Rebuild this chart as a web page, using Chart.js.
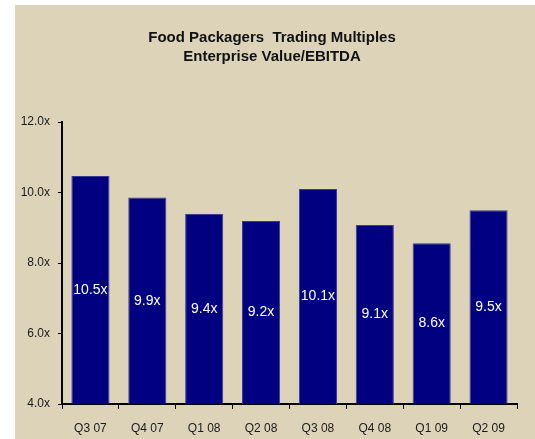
<!DOCTYPE html>
<html>
<head>
<meta charset="utf-8">
<script src="https://cdn.jsdelivr.net/npm/chart.js@4/dist/chart.umd.min.js"></script>
<style>
html,body{margin:0;padding:0;background:#ffffff;}
#wrap{position:relative;width:535px;height:439px;}
</style>
</head>
<body>
<div id="wrap"><canvas id="c" width="535" height="439"></canvas></div>
<script>
const titleLines = ["Food Packagers  Trading Multiples", "Enterprise Value/EBITDA"];
const categories = ["Q3 07", "Q4 07", "Q1 08", "Q2 08", "Q3 08", "Q4 08", "Q1 09", "Q2 09"];
const multiples = [10.47, 9.86, 9.39, 9.19, 10.1, 9.08, 8.56, 9.5];
const valueLabels = ["10.5x", "9.9x", "9.4x", "9.2x", "10.1x", "9.1x", "8.6x", "9.5x"];
const yTicks = [4, 6, 8, 10, 12];

const bgPlugin = {
  id: 'bg',
  beforeDraw(chart) {
    const ctx = chart.ctx;
    ctx.save();
    ctx.fillStyle = '#ffffff';
    ctx.fillRect(0, 0, chart.width, chart.height);
    ctx.fillStyle = '#DDD3B8';
    ctx.fillRect(15, 5, chart.width - 15, chart.height - 5);
    ctx.fillStyle = '#111111';
    ctx.font = 'bold 15px "Liberation Sans", Arial, sans-serif';
    ctx.textAlign = 'center';
    ctx.textBaseline = 'middle';
    ctx.fillText(titleLines[0], 272, 38);
    ctx.fillText(titleLines[1], 272, 57);
    ctx.restore();
  }
};

const labelPlugin = {
  id: 'vlabels',
  afterDatasetsDraw(chart) {
    const ctx = chart.ctx;
    const meta = chart.getDatasetMeta(0);
    const bottom = chart.scales.y.getPixelForValue(chart.scales.y.min);
    ctx.save();
    ctx.fillStyle = '#ffffff';
    ctx.font = '14px "Liberation Sans", Arial, sans-serif';
    ctx.textAlign = 'center';
    ctx.textBaseline = 'middle';
    meta.data.forEach((el, i) => {
      ctx.fillText(valueLabels[i], el.x, (el.y + bottom) / 2);
    });
    ctx.restore();
  }
};

new Chart(document.getElementById('c'), {
  type: 'bar',
  data: {
    labels: categories,
    datasets: [{
      data: multiples,
      backgroundColor: '#000080',
      borderColor: '#3c3c8c',
      borderWidth: 1,
      barPercentage: 0.67,
      categoryPercentage: 1.0
    }]
  },
  options: {
    responsive: false,
    animation: false,
    devicePixelRatio: 1,
    layout: { padding: { left: 0, right: 18, top: 122, bottom: 0 } },
    plugins: { legend: { display: false }, tooltip: { enabled: false }, title: { display: false } },
    scales: {
      x: {
        offset: true,
        grid: { display: true, offset: true, drawOnChartArea: false, tickLength: 5, color: '#000000', lineWidth: 1 },
        border: { display: true, color: '#000000', width: 2 },
        ticks: { color: '#1a1a1a', font: { family: '"Liberation Sans", Arial, sans-serif', size: 12 }, padding: 12, maxRotation: 0 },
        afterFit(s) { s.height = 35; }
      },
      y: {
        min: 4, max: 12,
        afterBuildTicks(s) { s.ticks = yTicks.map(v => ({ value: v })); },
        grid: { display: true, drawOnChartArea: false, tickLength: 4, color: '#000000', lineWidth: 1 },
        border: { display: true, color: '#000000', width: 2 },
        ticks: {
          color: '#1a1a1a',
          font: { family: '"Liberation Sans", Arial, sans-serif', size: 12 },
          padding: 8,
          callback: v => v.toFixed(1) + 'x'
        },
        afterFit(s) { s.width = 62; }
      }
    }
  },
  plugins: [bgPlugin, labelPlugin]
});
</script>
</body>
</html>
